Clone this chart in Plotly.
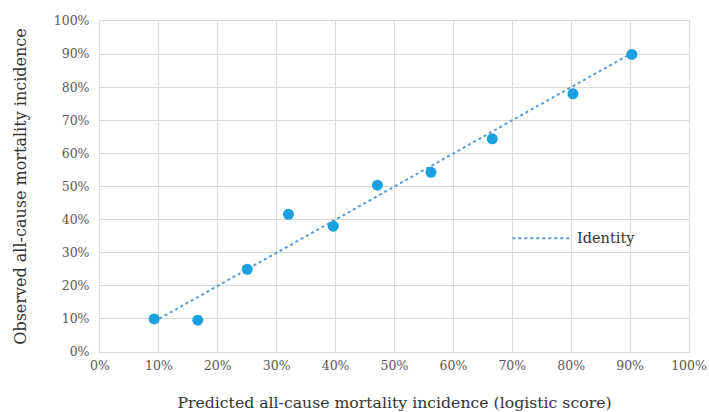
import plotly.graph_objects as go

predicted = [9.2, 16.6, 25.0, 32.0, 39.6, 47.1, 56.2, 66.6, 80.3, 90.3]
observed = [10.0, 9.6, 25.0, 41.6, 38.0, 50.4, 54.3, 64.4, 78.0, 89.9]
identity_x = [predicted[0], predicted[-1]]
identity_y = [predicted[0], predicted[-1]]
ticks = list(range(0, 101, 10))
tick_labels = [f"{t}%" for t in ticks]
legend_label = "Identity"

line_color = "#5b9bd5"
font_family = "DejaVu Serif, Liberation Serif, serif"

fig = go.Figure()
fig.add_trace(go.Scatter(
    x=identity_x, y=identity_y, mode="lines", name=legend_label,
    line=dict(color=line_color, width=2, dash="dot"), showlegend=False))
fig.add_trace(go.Scatter(
    x=predicted, y=observed, mode="markers", name="Observed",
    marker=dict(color="#1ba1e2", size=11), showlegend=False))

# legend drawn as a key line plus label
fig.add_shape(type="line", xref="paper", yref="paper",
              x0=0.70, x1=0.80, y0=0.344, y1=0.344,
              line=dict(color=line_color, width=2, dash="dot"))
fig.add_annotation(xref="paper", yref="paper", x=0.806, y=0.344,
                   xanchor="left", yanchor="middle", showarrow=False,
                   text=legend_label, font=dict(size=14.5, color="#333333"))

fig.update_layout(
    width=709, height=412,
    margin=dict(l=100, r=20, t=21, b=60),
    paper_bgcolor="white", plot_bgcolor="white",
    font=dict(family=font_family, size=12.5, color="#404040"),
    showlegend=False,
    xaxis=dict(range=[0, 100], tickvals=ticks, ticktext=tick_labels,
               showgrid=True, gridcolor="#d9d9d9", gridwidth=1,
               zeroline=False, showline=True, linecolor="#d9d9d9", mirror=True,
               ticks="", automargin=False, ticklabelstandoff=2,
               tickfont=dict(size=12.5, color="#595959"),
               title=dict(text="Predicted all-cause mortality incidence (logistic score)",
                          font=dict(size=15.7, color="#333333"), standoff=27)),
    yaxis=dict(range=[0, 100], tickvals=ticks, ticktext=tick_labels,
               showgrid=True, gridcolor="#d9d9d9", gridwidth=1,
               zeroline=False, showline=True, linecolor="#d9d9d9", mirror=True,
               ticks="", automargin=False, ticklabelstandoff=7,
               tickfont=dict(size=12.5, color="#595959"),
               title=dict(text="Observed all-cause mortality incidence",
                          font=dict(size=16, color="#333333"), standoff=23)),
)

fig.write_html(
    "out.html",
    config={"displayModeBar": False},
    post_script="document.body.style.margin='0';document.body.style.overflow='hidden';",
)
